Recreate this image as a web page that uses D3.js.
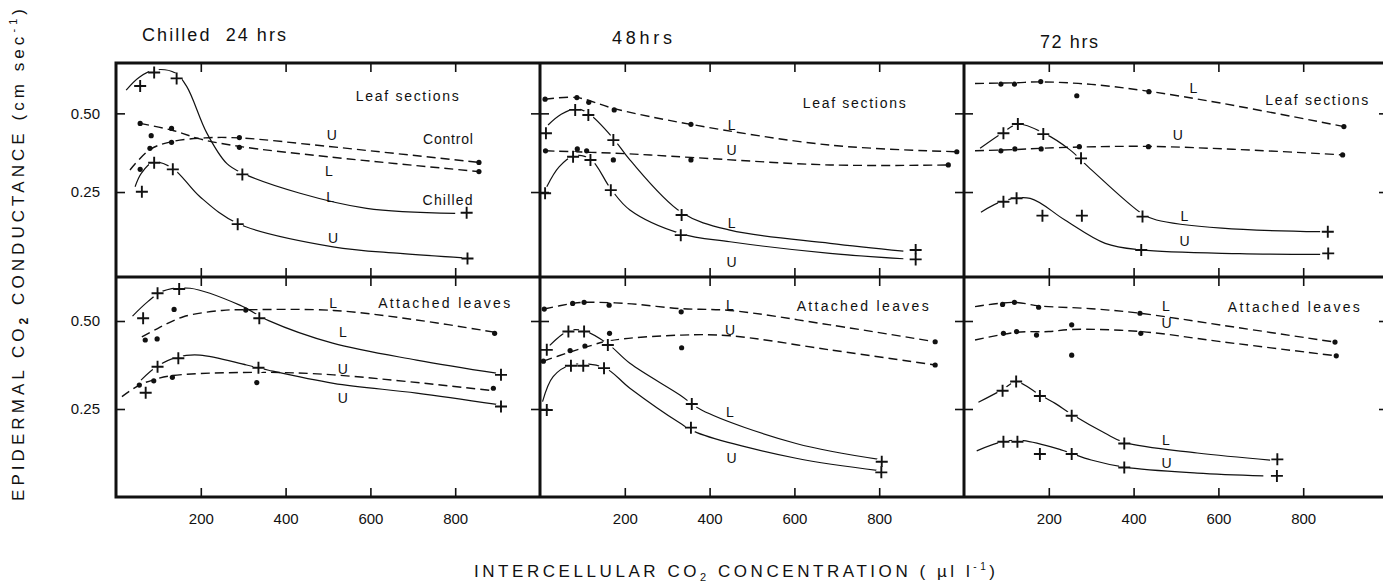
<!DOCTYPE html>
<html>
<head>
<meta charset="utf-8">
<script src="https://cdnjs.cloudflare.com/ajax/libs/d3/7.8.5/d3.min.js"></script>
<style>
body { margin: 0; background: #fff; }
svg { display: block; }
text { font-family: "Liberation Sans", Arial, sans-serif; fill: #111; }
</style>
</head>
<body>
<svg width="1383" height="586"></svg>
<script>
// ---- data: [CO2 ul/l, conductance cm/s] ----
var xTicks = [200, 400, 600, 800];
var yTicks = [0.25, 0.50];
var titles = ["Chilled  24 hrs", "48hrs", "72 hrs"];

// leaf sections, chilled 24 hrs
var leaf24 = [
  { mark: "plus", dash: false, pts: [[57,0.587],[90,0.630],[143,0.611],[298,0.306],[827,0.184]],
    fit: [[24,0.574],[55,0.615],[92,0.638],[140,0.628],[167,0.585],[214,0.438],[261,0.341],[298,0.310],[434,0.246],[591,0.198],[800,0.182]] },
  { mark: "plus", dash: false, pts: [[61,0.251],[90,0.343],[134,0.322],[287,0.148],[829,0.039]],
    fit: [[45,0.267],[60,0.31],[88,0.345],[134,0.325],[198,0.235],[287,0.150],[512,0.076],[670,0.055],[820,0.041]] },
  { mark: "dot", dash: true, pts: [[57,0.322],[80,0.389],[131,0.408],[291,0.423],[856,0.344]],
    fit: [[33,0.32],[80,0.385],[131,0.41],[210,0.422],[291,0.422],[500,0.395],[856,0.344]] },
  { mark: "dot", dash: true, pts: [[57,0.468],[83,0.429],[131,0.452],[291,0.392],[856,0.315]],
    fit: [[57,0.468],[131,0.447],[200,0.418],[291,0.395],[500,0.362],[856,0.315]] }
];
// leaf sections, 48 hrs
var leaf48 = [
  { mark: "plus", dash: false, pts: [[14,0.437],[83,0.511],[114,0.495],[173,0.415],[334,0.177],[886,0.066]],
    fit: [[19,0.463],[50,0.497],[85,0.515],[114,0.5],[173,0.42],[212,0.352],[334,0.185],[448,0.129],[684,0.087],[857,0.062]] },
  { mark: "plus", dash: false, pts: [[12,0.246],[78,0.362],[119,0.352],[167,0.256],[332,0.113],[886,0.036]],
    fit: [[16,0.267],[45,0.33],[80,0.365],[119,0.355],[167,0.26],[212,0.193],[332,0.118],[448,0.092],[684,0.055],[857,0.038]] },
  { mark: "dot", dash: true, pts: [[12,0.545],[87,0.550],[115,0.535],[175,0.511],[356,0.465],[983,0.378]],
    fit: [[12,0.545],[87,0.550],[175,0.515],[356,0.465],[684,0.399],[983,0.378]] },
  { mark: "dot", dash: true, pts: [[13,0.381],[88,0.387],[110,0.381],[173,0.352],[356,0.352],[963,0.336]],
    fit: [[13,0.381],[200,0.372],[356,0.36],[684,0.336],[963,0.336]] }
];
// leaf sections, 72 hrs
var leaf72 = [
  { mark: "dot", dash: true, pts: [[87,0.593],[119,0.593],[181,0.601],[266,0.556],[436,0.569],[896,0.458]],
    fit: [[26,0.595],[119,0.597],[181,0.600],[300,0.592],[436,0.57],[608,0.532],[896,0.458]] },
  { mark: "dot", dash: true, pts: [[87,0.381],[120,0.387],[182,0.387],[272,0.394],[435,0.394],[893,0.368]],
    fit: [[26,0.381],[120,0.385],[182,0.389],[272,0.393],[435,0.395],[650,0.385],[893,0.368]] },
  { mark: "plus", dash: false, pts: [[93,0.437],[127,0.466],[187,0.434],[276,0.357],[421,0.172],[858,0.124]],
    fit: [[38,0.389],[93,0.44],[127,0.466],[187,0.438],[250,0.384],[293,0.33],[421,0.18],[454,0.161],[608,0.135],[840,0.124]] },
  { mark: "plus", dash: false, pts: [[93,0.219],[124,0.230],[185,0.175],[278,0.175],[418,0.066],[859,0.055]],
    fit: [[40,0.186],[93,0.222],[156,0.230],[238,0.161],[333,0.087],[418,0.066],[650,0.054],[840,0.052]] }
];
// attached leaves, 24 hrs
var att24 = [
  { mark: "plus", dash: false, pts: [[64,0.508],[98,0.579],[149,0.591],[338,0.508],[908,0.347]],
    fit: [[39,0.514],[75,0.555],[110,0.585],[175,0.593],[292,0.545],[360,0.501],[511,0.437],[709,0.389],[901,0.351]] },
  { mark: "plus", dash: false, pts: [[70,0.296],[98,0.370],[147,0.394],[336,0.367],[908,0.257]],
    fit: [[59,0.332],[98,0.372],[147,0.398],[198,0.403],[308,0.375],[360,0.36],[513,0.323],[709,0.295],[898,0.263]] },
  { mark: "dot", dash: true, pts: [[69,0.446],[97,0.449],[137,0.533],[306,0.531],[893,0.465]],
    fit: [[61,0.455],[100,0.48],[159,0.512],[250,0.530],[306,0.532],[513,0.530],[709,0.503],[893,0.468]] },
  { mark: "dot", dash: true, pts: [[55,0.318],[89,0.330],[133,0.340],[332,0.325],[890,0.309]],
    fit: [[14,0.285],[55,0.318],[89,0.333],[133,0.345],[332,0.354],[513,0.347],[890,0.302]] }
];
// attached leaves, 48 hrs
var att48 = [
  { mark: "dot", dash: true, pts: [[10,0.534],[77,0.550],[104,0.553],[163,0.545],[333,0.526],[932,0.441]],
    fit: [[10,0.534],[77,0.550],[104,0.553],[200,0.550],[333,0.535],[448,0.530],[684,0.489],[932,0.441]] },
  { mark: "dot", dash: true, pts: [[8,0.386],[71,0.416],[106,0.429],[164,0.465],[334,0.424],[932,0.375]],
    fit: [[8,0.386],[71,0.412],[106,0.425],[164,0.444],[334,0.46],[448,0.458],[684,0.418],[932,0.375]] },
  { mark: "plus", dash: false, pts: [[16,0.418],[67,0.470],[104,0.470],[160,0.432],[358,0.264],[806,0.100]],
    fit: [[20,0.427],[67,0.472],[104,0.472],[160,0.435],[212,0.38],[330,0.29],[381,0.247],[604,0.152],[800,0.107]] },
  { mark: "plus", dash: false, pts: [[16,0.247],[73,0.373],[102,0.373],[151,0.366],[356,0.197],[805,0.070]],
    fit: [[6,0.271],[31,0.342],[73,0.375],[151,0.368],[212,0.309],[330,0.21],[370,0.183],[604,0.110],[800,0.075]] }
];
// attached leaves, 72 hrs
var att72 = [
  { mark: "dot", dash: true, pts: [[91,0.547],[119,0.553],[176,0.539],[415,0.522],[875,0.440]],
    fit: [[26,0.541],[119,0.553],[176,0.543],[300,0.535],[415,0.522],[608,0.488],[875,0.440]] },
  { mark: "dot", dash: true, pts: [[93,0.465],[124,0.470],[171,0.460],[254,0.489],[254,0.403],[417,0.465],[878,0.401]],
    fit: [[26,0.446],[124,0.468],[200,0.47],[254,0.476],[417,0.47],[608,0.441],[878,0.401]] },
  { mark: "plus", dash: false, pts: [[91,0.302],[123,0.328],[179,0.287],[254,0.231],[378,0.152],[739,0.107]],
    fit: [[34,0.269],[91,0.305],[123,0.327],[179,0.29],[215,0.266],[254,0.235],[333,0.181],[378,0.155],[550,0.125],[722,0.105]] },
  { mark: "plus", dash: false, pts: [[93,0.157],[126,0.157],[179,0.122],[254,0.122],[378,0.084],[738,0.060]],
    fit: [[30,0.131],[93,0.158],[140,0.16],[229,0.134],[300,0.105],[378,0.085],[550,0.068],[706,0.060]] }
];

// in-panel labels: [text, x, y]
var leaf24Labels = [["Leaf sections",687,0.555],["U",509,0.431],["Control",783,0.419],["L",502,0.317],["L",505,0.234],["Chilled",782,0.225],["U",512,0.104]];
var leaf48Labels = [["Leaf sections",741,0.534],["L",452,0.463],["U",452,0.384],["L",452,0.151],["U",452,0.029]];
var leaf72Labels = [["L",541,0.580],["Leaf sections",832,0.542],["U",504,0.431],["L",520,0.175],["U",520,0.095]];
var att24Labels = [["L",512,0.552],["Attached leaves",774,0.552],["L",535,0.470],["U",535,0.363],["U",535,0.280]];
var att48Labels = [["L",448,0.545],["Attached leaves",761,0.543],["U",448,0.474],["L",448,0.242],["U",452,0.110]];
var att72Labels = [["L",476,0.543],["Attached leaves",778,0.540],["U",478,0.493],["L",476,0.162],["U",478,0.096]];

var svg = d3.select("svg");

var panelLeft = [116, 540, 964],
    panelW = 424;

var yRow = [
  d3.scaleLinear().domain([-0.02, 0.66]).range([277, 63]),
  d3.scaleLinear().domain([0, 0.625]).range([497, 277])
];

var panels = [
  { row: 0, col: 0, series: leaf24, labels: leaf24Labels },
  { row: 0, col: 1, series: leaf48, labels: leaf48Labels },
  { row: 0, col: 2, series: leaf72, labels: leaf72Labels },
  { row: 1, col: 0, series: att24, labels: att24Labels },
  { row: 1, col: 1, series: att48, labels: att48Labels },
  { row: 1, col: 2, series: att72, labels: att72Labels }
];

var plusPath = "M-6,0H6M0,-6V6";

panels.forEach(function(p) {
  var x = d3.scaleLinear().domain([0, 1000]).range([panelLeft[p.col], panelLeft[p.col] + panelW]),
      y = yRow[p.row];
  var g = svg.append("g");

  var line = d3.line()
      .x(function(d) { return x(d[0]); })
      .y(function(d) { return y(d[1]); })
      .curve(d3.curveCatmullRom.alpha(0.5));

  // fitted curves
  g.selectAll(".fit")
    .data(p.series)
    .enter().append("path")
      .attr("d", function(s) { return line(s.fit); })
      .attr("fill", "none")
      .attr("stroke", "#111")
      .attr("stroke-width", function(s) { return s.dash ? 1.4 : 1.2; })
      .attr("stroke-dasharray", function(s) { return s.dash ? "9,5" : null; });

  // plus markers: white gap first, then the cross
  p.series.filter(function(s) { return s.mark == "plus"; }).forEach(function(s) {
    g.selectAll(null).data(s.pts).enter().append("circle")
      .attr("cx", function(d) { return x(d[0]); })
      .attr("cy", function(d) { return y(d[1]); })
      .attr("r", 5.5)
      .attr("fill", "#fff");
    g.selectAll(null).data(s.pts).enter().append("path")
      .attr("transform", function(d) { return "translate(" + x(d[0]) + "," + y(d[1]) + ")"; })
      .attr("d", plusPath)
      .attr("stroke", "#111")
      .attr("stroke-width", 1.9);
  });

  p.series.filter(function(s) { return s.mark == "dot"; }).forEach(function(s) {
    g.selectAll(null).data(s.pts).enter().append("circle")
      .attr("cx", function(d) { return x(d[0]); })
      .attr("cy", function(d) { return y(d[1]); })
      .attr("r", 2.6)
      .attr("fill", "#111");
  });

  // labels
  g.selectAll(".lab")
    .data(p.labels)
    .enter().append("text")
      .attr("x", function(d) { return x(d[1]); })
      .attr("y", function(d) { return y(d[2]) + 5; })
      .attr("text-anchor", "middle")
      .attr("fill", "#000")
      .style("font-size", "14px")
      .attr("textLength", function(d) {
        if (d[0] == "Leaf sections") return 103;
        if (d[0] == "Attached leaves") return 132;
        if (d[0].length > 1) return 50;
        return null;
      })
      .attr("lengthAdjust", "spacing")
      .text(function(d) { return d[0]; });

  // ticks on all four sides, pointing inward
  var top = y.range()[1], bottom = y.range()[0];
  var axT = d3.axisTop(x).tickValues(xTicks).tickSize(-9).tickFormat("");
  var axB = d3.axisBottom(x).tickValues(xTicks).tickSize(-9);
  if (p.row == 1) axB.tickPadding(16).tickFormat(d3.format("d"));
  else axB.tickFormat("");
  var axL = d3.axisLeft(y).tickValues(yTicks).tickSize(-9);
  if (p.col == 0) axL.tickPadding(16).tickFormat(d3.format(".2f"));
  else axL.tickFormat("");
  var axR = d3.axisRight(y).tickValues(yTicks).tickSize(-9).tickFormat("");

  [[axT, "translate(0," + top + ")"],
   [axB, "translate(0," + bottom + ")"],
   [axL, "translate(" + x.range()[0] + ",0)"],
   [axR, "translate(" + x.range()[1] + ",0)"]].forEach(function(a) {
    var ga = svg.append("g").attr("transform", a[1]).call(a[0]);
    ga.select(".domain").remove();
    ga.selectAll(".tick line").attr("stroke", "#111").attr("stroke-width", 1.6);
    ga.selectAll(".tick text")
      .attr("fill", "#222")
      .style("font-family", '"Liberation Sans", Arial, sans-serif')
      .style("font-size", "15px");
  });
});

// frame
var frame = svg.append("g").attr("fill", "none").attr("stroke", "#111").attr("stroke-width", 3);
frame.append("rect").attr("x", 116).attr("y", 63).attr("width", 1388 - 116).attr("height", 497 - 63);
frame.append("line").attr("x1", 116).attr("x2", 1388).attr("y1", 277).attr("y2", 277);
[540, 964].forEach(function(xx) {
  frame.append("line").attr("x1", xx).attr("x2", xx).attr("y1", 63).attr("y2", 497);
});

// column titles
var titlePos = [[142, 41, 144], [612, 44, 60], [1040, 48, 58]];
svg.selectAll(".title")
  .data(titles)
  .enter().append("text")
    .attr("x", function(d, i) { return titlePos[i][0]; })
    .attr("y", function(d, i) { return titlePos[i][1]; })
    .attr("textLength", function(d, i) { return titlePos[i][2]; })
    .attr("lengthAdjust", "spacing")
    .attr("xml:space", "preserve")
    .style("font-size", "18px")
    .text(function(d) { return d; });

// axis titles
var yt = svg.append("text")
    .attr("transform", "translate(24,255) rotate(-90)")
    .attr("text-anchor", "middle")
    .attr("textLength", 492)
    .attr("lengthAdjust", "spacing")
    .style("font-size", "17px");
yt.append("tspan").text("EPIDERMAL  CO");
yt.append("tspan").attr("dy", 4).style("font-size", "12px").style("font-weight", "bold").text("2");
yt.append("tspan").attr("dy", -4).text("  CONDUCTANCE  (cm  sec");
yt.append("tspan").attr("dy", -7).style("font-size", "11px").text("-1");
yt.append("tspan").attr("dy", 7).text(")");

var xt = svg.append("text")
    .attr("x", 474)
    .attr("y", 577)
    .attr("textLength", 521)
    .attr("lengthAdjust", "spacing")
    .style("font-size", "17px");
xt.append("tspan").text("INTERCELLULAR  CO");
xt.append("tspan").attr("dy", 4).style("font-size", "11px").text("2");
xt.append("tspan").attr("dy", -4).text("  CONCENTRATION  ( \u00b5l l");
xt.append("tspan").attr("dy", -7).style("font-size", "10px").text("-1");
xt.append("tspan").attr("dy", 7).text(")");
</script>
</body>
</html>
